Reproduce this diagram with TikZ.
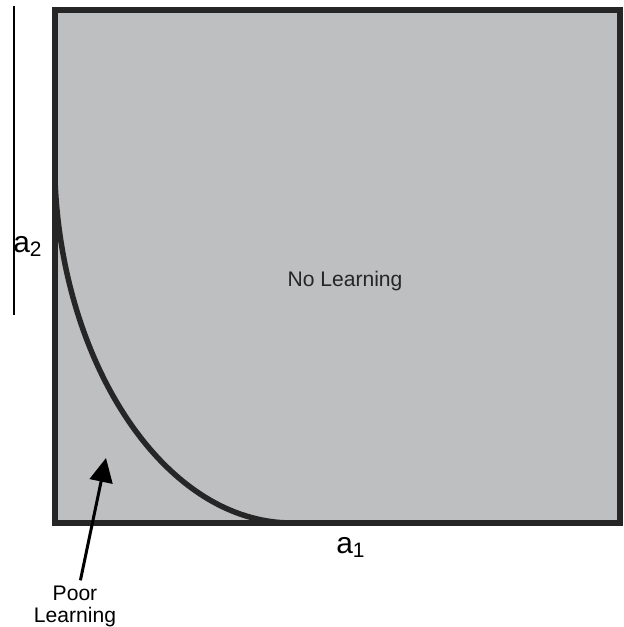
\documentclass[tikz,border=0pt]{standalone}
\usepackage{fontspec}
\setmainfont{Liberation Sans}
\usetikzlibrary{arrows.meta}
\definecolor{regiongray}{RGB}{190,191,193}
\definecolor{edgegray}{RGB}{38,38,38}

\begin{document}
\begin{tikzpicture}[x=0.02cm,y=-0.02cm,>={Triangle[length=0.48cm,width=0.46cm]},inner sep=2pt]
  \useasboundingbox(0,0)rectangle(624,627);
  % region and boundary
  \draw[line width=0.12cm,draw=edgegray,fill=regiongray](55,10)rectangle(620,523);
  \draw[line width=0.11cm,draw=black!85](55,180)..controls(62,365)and(165,523)..(292,523);
  \draw[line width=0.6pt](14,6)--(14,315);
  % labels
  \node[anchor=base,text=black!85,font=\fontsize{12pt}{14pt}\selectfont](nolearn)at(345,286){No Learning};
  \node[anchor=base west,inner sep=0pt,font=\fontsize{17pt}{20pt}\selectfont](atwo)at(13,252){a\textsubscript{2}};
  \node[anchor=base west,inner sep=0pt,font=\fontsize{17pt}{20pt}\selectfont](aone)at(336,553){a\textsubscript{1}};
  \node[anchor=north,align=center,font=\fontsize{12pt}{12.5pt}\selectfont](poor)at(75,582){Poor\\Learning};
  \coordinate(tip)at(106,458);
  \draw[->,line width=0.06cm,shorten <=1pt](poor)--(tip);
\end{tikzpicture}
\end{document}
